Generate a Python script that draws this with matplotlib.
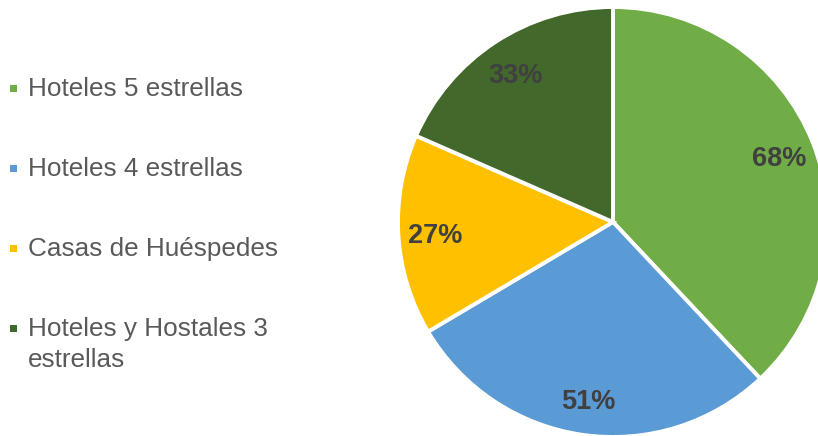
import textwrap
import numpy as np
import matplotlib.pyplot as plt
from matplotlib.patches import Rectangle

categories = ["Hoteles 5 estrellas", "Hoteles 4 estrellas",
              "Casas de Huéspedes", "Hoteles y Hostales 3 estrellas"]
values = [68, 51, 27, 33]
colors = ["#70AD47", "#5B9BD5", "#FFC000", "#43682B"]

W, H = 818, 436
fig = plt.figure(figsize=(W / 100, H / 100), dpi=100)
plt.rcParams['font.family'] = ['Liberation Sans', 'DejaVu Sans']

# pie: centre (613, 222) px from top-left, radius 215 px
cx, cy, r = 613, 222, 215
ax = fig.add_axes([(cx - r) / W, (H - cy - r) / H, 2 * r / W, 2 * r / H])

wedges, texts = ax.pie(values, colors=colors, startangle=90, counterclock=False,
                       radius=1, wedgeprops=dict(edgecolor='white', linewidth=2.8))
ax.set_xlim(-1, 1)
ax.set_ylim(-1, 1)
ax.axis('off')
for w in wedges:
    w.set_clip_on(False)

# value labels placed along each wedge's mid angle
for w, v in zip(wedges, values):
    mid = np.deg2rad((w.theta1 + w.theta2) / 2)
    ax.text(0.83 * np.cos(mid), 0.83 * np.sin(mid), f"{v}%", ha='center',
            va='center_baseline', fontsize=19.5, fontweight='bold', color='#404040')

# legend on the left
base = 96
step = 80
for i, (cat, col) in enumerate(zip(categories, colors)):
    y = base + i * step
    fig.patches.append(Rectangle((10 / W, 1 - (y - 4) / H), 7 / W, 7 / H,
                                 transform=fig.transFigure, facecolor=col,
                                 edgecolor='none'))
    for j, line in enumerate(textwrap.wrap(cat, 20)):
        fig.text(28 / W, 1 - (y + j * 31) / H, line, fontsize=18.8, color='#595959',
                 va='baseline', ha='left')

fig.savefig('out.png', dpi=100)
